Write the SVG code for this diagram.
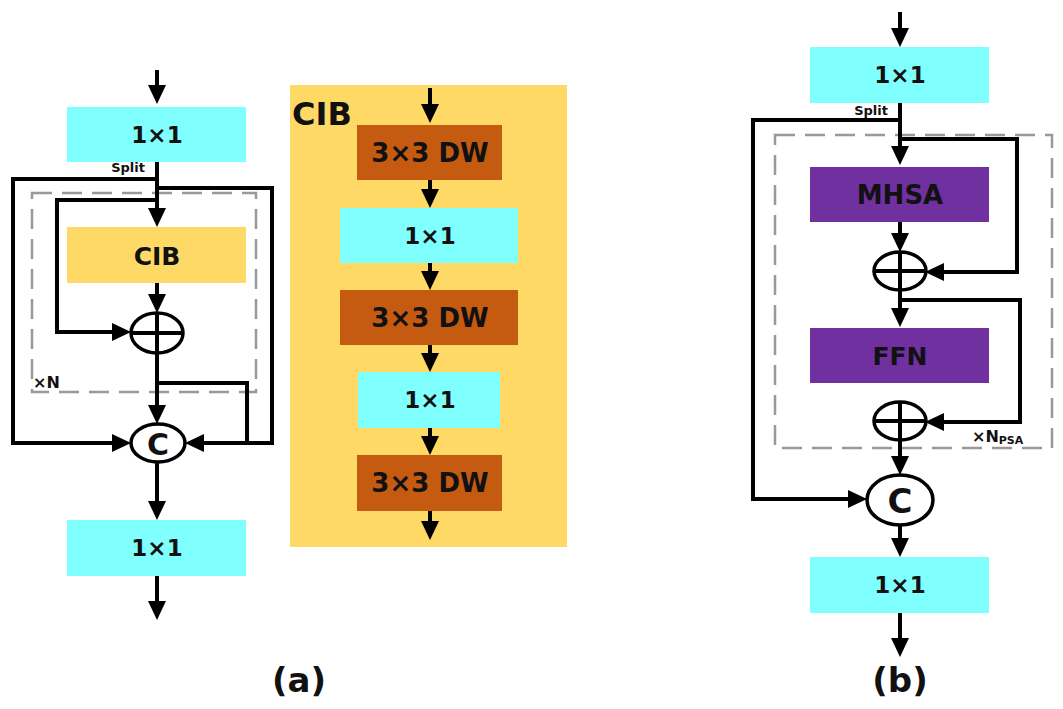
<svg xmlns="http://www.w3.org/2000/svg" width="1063" height="709" viewBox="0 0 1063 709">
<style>
  .t{font-family:"DejaVu Sans","Liberation Sans",sans-serif;font-weight:bold;fill:#111;text-anchor:middle;dominant-baseline:central}
  .s{font-family:"DejaVu Sans","Liberation Sans",sans-serif;font-weight:bold;fill:#111}
  .cyan{fill:#80FFFF}
  .gold{fill:#FFD966}
  .brown{fill:#C55A11}
  .purple{fill:#7030A0}
  .ln{fill:none;stroke:#000;stroke-width:4;stroke-linejoin:miter}
  .ar{fill:none;stroke:#000;stroke-width:4;marker-end:url(#ah)}
  .op{fill:#fff;stroke:#000;stroke-width:3.5}
  .dash{fill:none;stroke:#999;stroke-width:2.5;stroke-dasharray:20 10}
</style>
<defs>
  <marker id="ah" viewBox="0 0 19 18" markerWidth="19" markerHeight="18" refX="8" refY="9" orient="auto" markerUnits="userSpaceOnUse">
    <path d="M0,0 L19,9 L0,18 z" fill="#000"/>
  </marker>
</defs>
<rect width="1063" height="709" fill="#fff"/>

<!-- (a) -->
<rect id="dash-a" class="dash" x="32" y="193" width="224" height="199"/>
<text class="s" x="33" y="388" font-size="16">×N</text>

<g id="a-conv1"><rect class="cyan" x="67" y="107" width="179" height="55"/><text class="t" x="157" y="135" font-size="23">1×1</text></g>
<text class="s" x="145" y="172" font-size="13" text-anchor="end">Split</text>
<g id="a-cib"><rect class="gold" x="67" y="227" width="179" height="56"/><text class="t" x="157" y="256" font-size="25">CIB</text></g>
<g id="a-conv2"><rect class="cyan" x="67" y="520" width="179" height="56"/><text class="t" x="157" y="548" font-size="23">1×1</text></g>

<g id="connectors-a">
  <line class="ar" x1="157" y1="70" x2="157" y2="93"/>
  <line class="ar" x1="157" y1="162" x2="157" y2="216"/>
  <polyline class="ar" points="157,179 13,179 13,443 120,443"/>
  <polyline class="ar" points="157,188 272,188 272,443 196,443"/>
  <polyline class="ar" points="157,200 57,200 57,332 120,332"/>
  <line class="ar" x1="157" y1="283" x2="157" y2="302"/>
  <line class="ar" x1="157" y1="352" x2="157" y2="413"/>
  <polyline class="ln" points="157,383 247,383 247,443"/>
  <line class="ar" x1="157" y1="462" x2="157" y2="509"/>
  <line class="ar" x1="157" y1="576" x2="157" y2="609"/>
</g>
<g id="a-add"><ellipse class="op" cx="157" cy="333" rx="26" ry="20"/><path class="ln" d="M157,313 V353 M131,333 H183" stroke-width="3.5"/></g>
<g id="a-cat"><ellipse class="op" cx="158" cy="443" rx="27" ry="19"/><text class="t" x="158" y="444" font-size="30">C</text></g>
<text class="t" x="299" y="680" font-size="34">(a)</text>

<!-- CIB panel -->
<g id="cib-panel">
  <rect class="gold" x="290" y="85" width="277" height="462"/>
  <text class="s" x="292" y="125" font-size="32">CIB</text>
</g>
<g id="cib-dw1"><rect class="brown" x="357" y="125" width="145" height="55"/><text class="t" x="430" y="153" font-size="26">3×3 DW</text></g>
<g id="cib-pw1"><rect class="cyan" x="340" y="208" width="178" height="55"/><text class="t" x="430" y="236" font-size="23">1×1</text></g>
<g id="cib-dw2"><rect class="brown" x="340" y="290" width="178" height="55"/><text class="t" x="430" y="318" font-size="26">3×3 DW</text></g>
<g id="cib-pw2"><rect class="cyan" x="358" y="372" width="142" height="56"/><text class="t" x="430" y="400" font-size="23">1×1</text></g>
<g id="cib-dw3"><rect class="brown" x="357" y="455" width="145" height="56"/><text class="t" x="430" y="483" font-size="26">3×3 DW</text></g>
<g id="connectors-cib">
  <line class="ar" x1="430" y1="88" x2="430" y2="112"/>
  <line class="ar" x1="430" y1="180" x2="430" y2="197"/>
  <line class="ar" x1="430" y1="263" x2="430" y2="279"/>
  <line class="ar" x1="430" y1="345" x2="430" y2="361"/>
  <line class="ar" x1="430" y1="428" x2="430" y2="444"/>
  <line class="ar" x1="430" y1="511" x2="430" y2="529"/>
</g>

<!-- (b) -->
<rect id="dash-b" class="dash" x="775" y="135" width="277" height="313"/>
<text class="s" x="972" y="442" font-size="16">×N<tspan font-size="11" dy="2">PSA</tspan></text>

<g id="b-conv1"><rect class="cyan" x="810" y="47" width="179" height="56"/><text class="t" x="900" y="75" font-size="23">1×1</text></g>
<text class="s" x="888" y="115" font-size="13" text-anchor="end">Split</text>
<g id="b-mhsa"><rect class="purple" x="810" y="167" width="179" height="55"/><text class="t" x="900" y="195" font-size="26">MHSA</text></g>
<g id="b-ffn"><rect class="purple" x="810" y="328" width="179" height="55"/><text class="t" x="900" y="356" font-size="25">FFN</text></g>
<g id="b-conv2"><rect class="cyan" x="810" y="557" width="179" height="56"/><text class="t" x="900" y="585" font-size="23">1×1</text></g>

<g id="connectors-b">
  <line class="ar" x1="900" y1="12" x2="900" y2="36"/>
  <line class="ar" x1="900" y1="103" x2="900" y2="154"/>
  <polyline class="ar" points="900,120 753,120 753,499 856,499"/>
  <polyline class="ar" points="900,139 1017,139 1017,272 936,272"/>
  <line class="ar" x1="900" y1="222" x2="900" y2="241"/>
  <line class="ar" x1="900" y1="290" x2="900" y2="316"/>
  <polyline class="ar" points="900,300 1020,300 1020,422 936,422"/>
  <line class="ar" x1="900" y1="440" x2="900" y2="464"/>
  <line class="ar" x1="900" y1="525" x2="900" y2="546"/>
  <line class="ar" x1="900" y1="613" x2="900" y2="646"/>
</g>
<g id="b-add1"><ellipse class="op" cx="900" cy="271" rx="26" ry="19"/><path class="ln" d="M900,252 V290 M874,271 H926" stroke-width="3.5"/></g>
<g id="b-add2"><ellipse class="op" cx="900" cy="421" rx="26" ry="19"/><path class="ln" d="M900,402 V440 M874,421 H926" stroke-width="3.5"/></g>
<g id="b-cat"><ellipse class="op" cx="900" cy="500" rx="33" ry="25"/><text class="t" x="900" y="501" font-size="34">C</text></g>
<text class="t" x="900" y="680" font-size="34">(b)</text>
</svg>
